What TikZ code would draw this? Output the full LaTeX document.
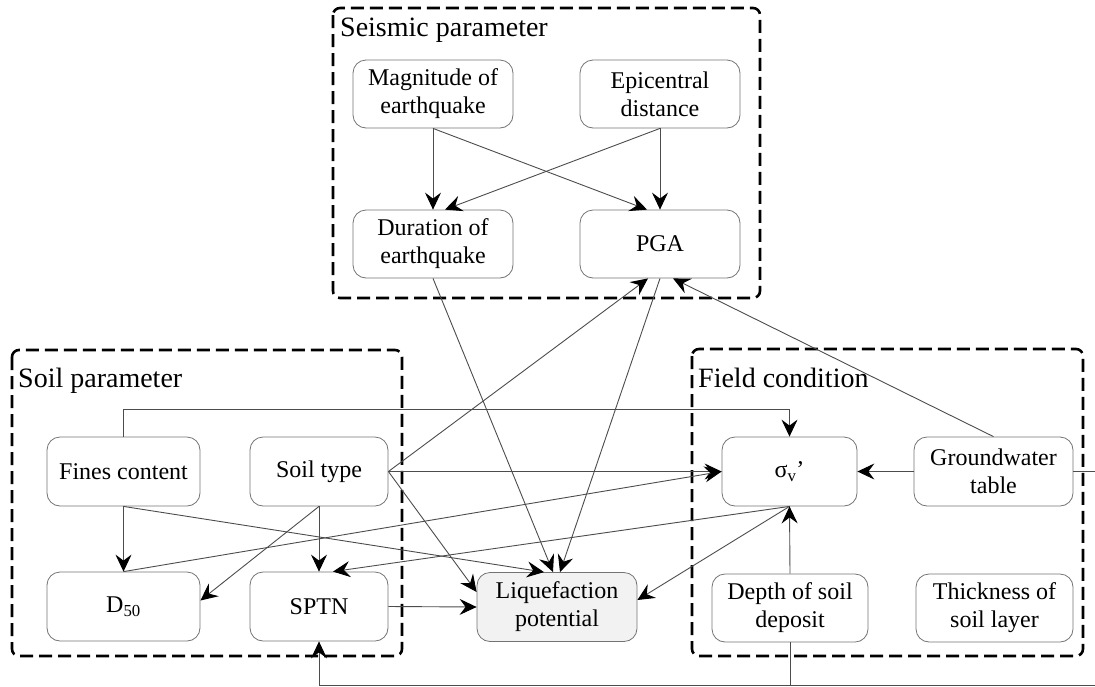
\documentclass[tikz,border=0pt]{standalone}
\usepackage{fontspec}
\setmainfont{Liberation Serif}
\usetikzlibrary{arrows.meta,calc}
\begin{document}
\begin{tikzpicture}[x=1pt,y=-1pt,
  box/.style={draw=black!55,line width=0.8pt,rounded corners=13pt,align=center,
    font=\fontsize{24}{28}\selectfont,inner sep=0pt},
  wbox/.style={box,minimum width=160pt,minimum height=68pt},
  nbox/.style={box,minimum width=138pt,minimum height=69pt},
  grp/.style={draw=black,line width=2.6pt,dash pattern=on 13pt off 6pt,rounded corners=7pt},
  grptitle/.style={anchor=base west,inner sep=0pt,font=\fontsize{28}{32}\selectfont},
  conn/.style={draw=black!70,line width=0.9pt},
  arr/.style={conn,-{Stealth[length=17pt,width=16pt,inset=6pt,black]}}]
\useasboundingbox (0,0) rectangle (1095,686);
% group boxes
\draw[grp] (333,8) rectangle (760,298);
\draw[grp] (12,350) rectangle (402,656);
\draw[grp] (692,349) rectangle (1083,656);
\node[grptitle] (tseis) at (340,36) {Seismic parameter};
\node[grptitle] (tsoil) at (18,387) {Soil parameter};
\node[grptitle] (tfield) at (698,387) {Field condition};
% nodes
\node[wbox] (mag) at (433,94) {Magnitude of\\earthquake};
\node[wbox] (epi) at (660,94) {Epicentral\\distance};
\node[wbox] (dur) at (433,244) {Duration of\\earthquake};
\node[wbox] (pga) at (660,244) {PGA};
\node[box,minimum width=153pt,minimum height=69pt] (fines) at (123.5,471.5) {Fines content};
\node[nbox] (soil) at (319,471.5) {Soil type};
\node[box,minimum width=153pt,minimum height=69pt] (d50) at (123.5,606.5) {D\textsubscript{50}};
\node[nbox] (sptn) at (319,606.5) {SPTN};
\node[wbox,fill=black!5,minimum height=69pt] (liq) at (557,607) {Liquefaction\\potential};
\node[box,minimum width=135pt,minimum height=69pt] (sig) at (789.5,471.5) {σ\textsubscript{v}'};
\node[wbox,minimum width=159pt,minimum height=69pt] (gw) at (993.5,471.5) {Groundwater\\table};
\node[wbox,minimum width=156pt] (depth) at (790,608) {Depth of soil\\deposit};
\node[wbox,minimum width=157pt] (thick) at (994.5,608) {Thickness of\\soil layer};
% free ends
\coordinate (gwout) at (1095,471.5);
\coordinate (botR) at (1095,685);
\coordinate (depthB) at (790,685);
\coordinate (sptnB) at (319,685);
\coordinate (fineT) at (123.5,409);
\coordinate (sigT) at (789.5,409);
% seismic connectors
\draw[arr] (mag.south) -- (dur.north);
\draw[arr] (mag.south) -- ($(pga.north)+(-13,0)$);
\draw[arr] (epi.south) -- ($(dur.north)+(12,0)$);
\draw[arr] (epi.south) -- (pga.north);
\draw[arr] (dur.south) -- ($(liq.north)+(-4,0)$);
\draw[arr] (pga.south) -- ($(liq.north)+(3,0)$);
\draw[arr] (soil.east) -- ($(pga.south)+(-12,0)$);
\draw[arr] (gw.north) -- ($(pga.south)+(13,0)$);
% soil connectors
\draw[arr] (fines.north) -- (fineT) -- (sigT) -- (sig.north);
\draw[arr] (fines.south) -- (d50.north);
\draw[arr] (fines.south) -- ($(liq.north)+(-13,0)$);
\draw[arr] (soil.south) -- (sptn.north);
\draw[arr] (soil.south) -- ($(d50.east)+(0,-6)$);
\draw[arr] (soil.east) -- (sig.west);
\draw[arr] (soil.east) -- ($(liq.west)+(0,-15)$);
\draw[arr] (sptn.east) -- (liq.west);
\draw[arr] (d50.north) -- (sig.west);
% field connectors
\draw[arr] (sig.south) -- ($(sptn.north)+(14,0)$);
\draw[arr] (sig.south) -- ($(liq.east)+(0,-7)$);
\draw[arr] (depth.north) -- (sig.south);
\draw[arr] (gw.west) -- (sig.east);
\draw[conn] (gw.east) -- (gwout);
\draw[conn] (depth.south) -- (depthB);
\draw[arr] (botR) -- (sptnB) -- (sptn.south);
\end{tikzpicture}
\end{document}
